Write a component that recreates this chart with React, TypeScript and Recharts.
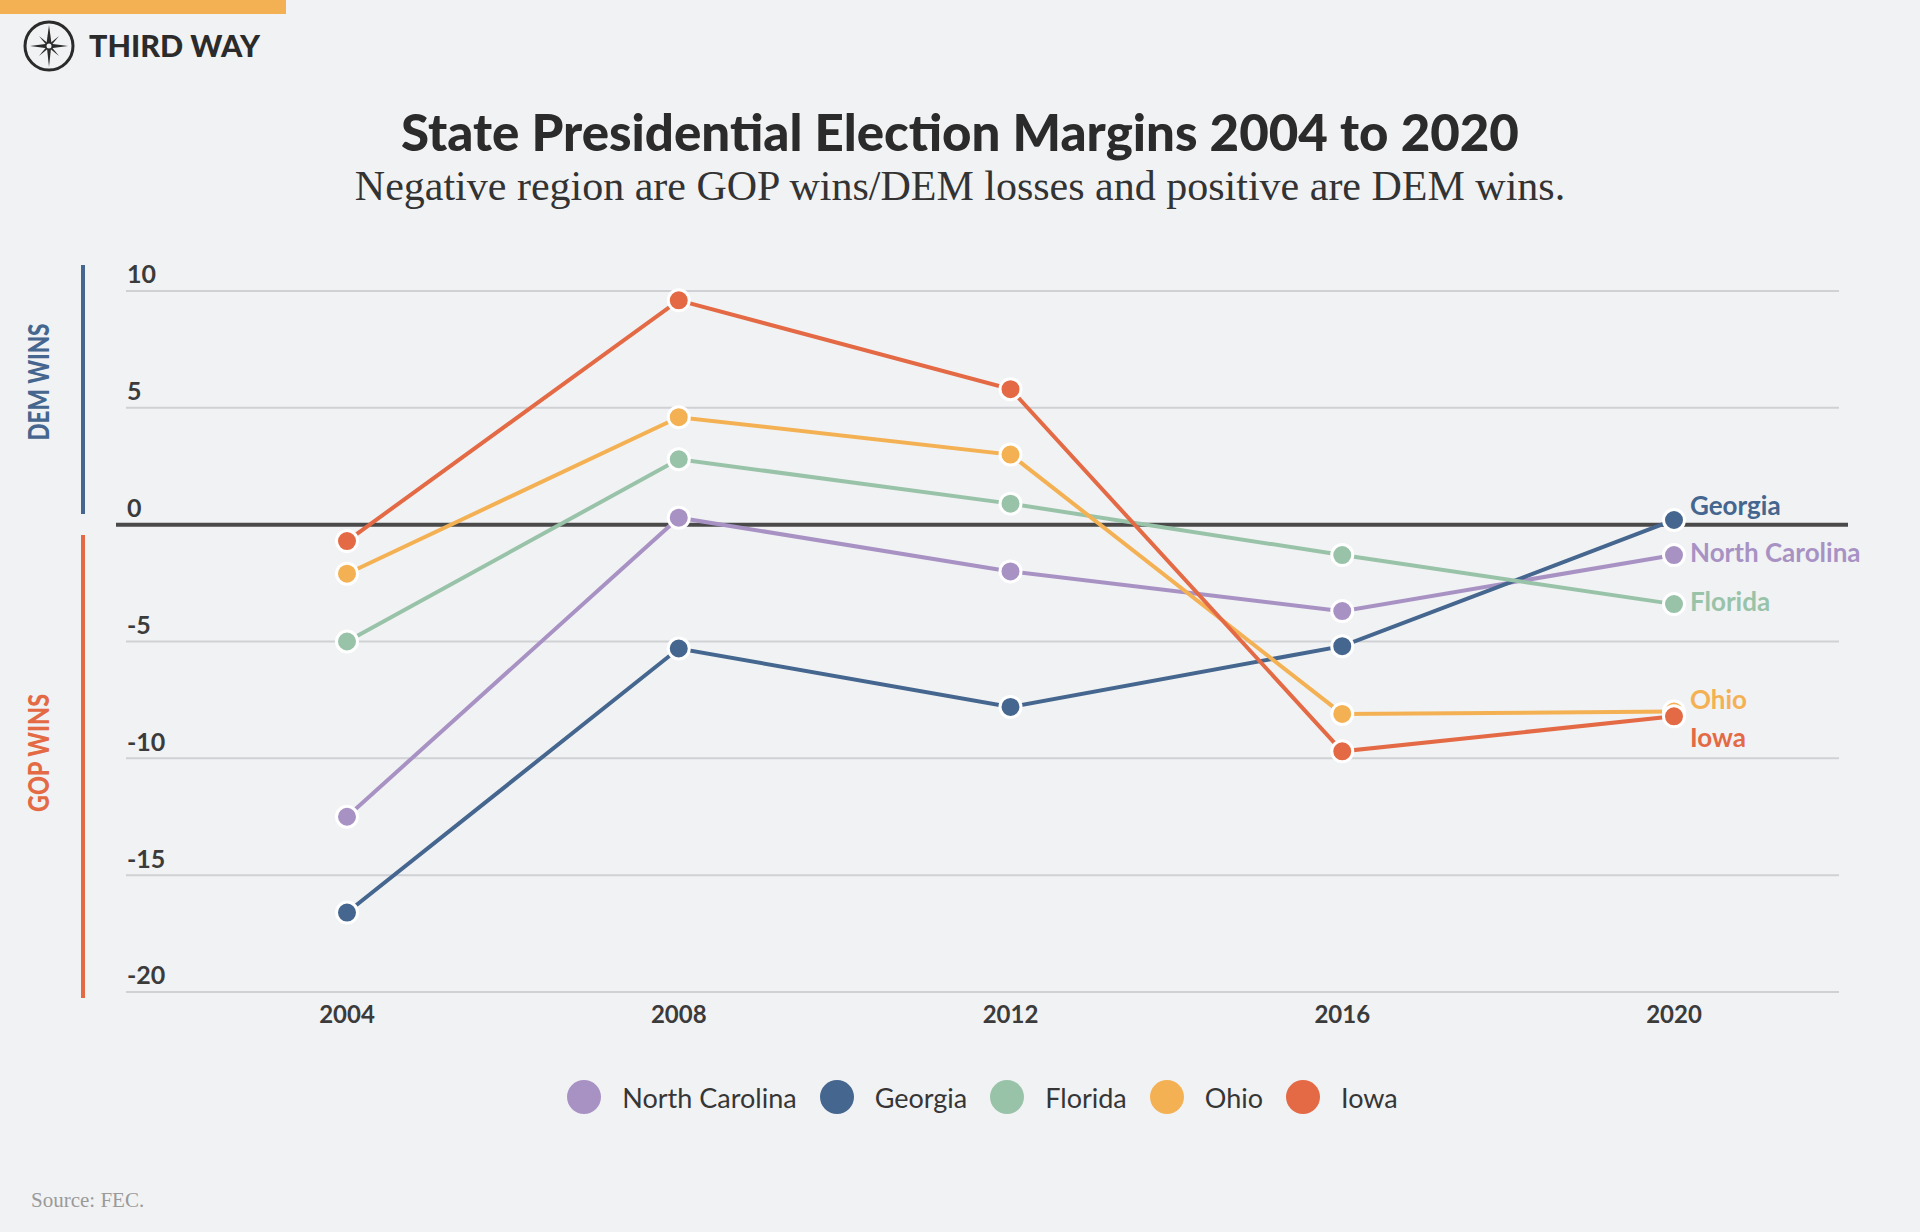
import React from "react";
import { LineChart, Line, XAxis, YAxis, CartesianGrid, Legend, ReferenceLine } from "recharts";

// margins in percentage points, negative = GOP win
const years = ["2004", "2008", "2012", "2016", "2020"];
const northCarolina = [-12.5, 0.3, -2.0, -3.7, -1.3];
const georgia = [-16.6, -5.3, -7.8, -5.2, 0.2];
const florida = [-5.0, 2.8, 0.9, -1.3, -3.4];
const ohio = [-2.1, 4.6, 3.0, -8.1, -8.0];
const iowa = [-0.7, 9.6, 5.8, -9.7, -8.2];
const yTicks = [-20, -15, -10, -5, 0, 5, 10];

const series = [
  { key: "nc", name: "North Carolina", values: northCarolina, color: "#a892c4", labelDy: 0 },
  { key: "ga", name: "Georgia", values: georgia, color: "#45668e", labelDy: -12 },
  { key: "fl", name: "Florida", values: florida, color: "#99c3a8", labelDy: 0 },
  { key: "oh", name: "Ohio", values: ohio, color: "#f4b154", labelDy: -9 },
  { key: "ia", name: "Iowa", values: iowa, color: "#e36a45", labelDy: 24 },
];

const data = years.map((year, i) => {
  const row: Record<string, any> = { year };
  series.forEach((s) => (row[s.key] = s.values[i]));
  return row;
});

const FONT = "Lato, 'Open Sans', sans-serif";
const TEXT = "#3b3b3b";

function YTick(props: any) {
  const { y, payload } = props;
  return (
    <text x={127} y={y - 14} fill={TEXT} fontSize={25} fontWeight={700} fontFamily={FONT} dominantBaseline="middle">
      {payload.value}
    </text>
  );
}

function XTick(props: any) {
  const { x, y, payload } = props;
  return (
    <text x={x} y={y + 17} fill={TEXT} fontSize={24} fontWeight={700} fontFamily={FONT} textAnchor="middle" dominantBaseline="middle">
      {payload.value}
    </text>
  );
}

function endLabel(s: (typeof series)[number]) {
  return (props: any) => {
    const { x, y, index } = props;
    if (index !== years.length - 1) return <g key={`${s.key}-${index}`} />;
    return (
      <text
        key={`${s.key}-${index}`}
        x={x + 16}
        y={y + s.labelDy}
        fill={s.color}
        fontSize={26}
        fontWeight={700}
        fontFamily={FONT}
        dominantBaseline="middle"
      >
        {s.name}
      </text>
    );
  };
}

function LegendContent() {
  return (
    <div style={{ display: "flex", justifyContent: "center", alignItems: "center", fontFamily: FONT, gap: 23 }}>
      {series.map((s) => (
        <div key={s.key} style={{ display: "flex", alignItems: "center" }}>
          <span style={{ width: 34, height: 34, borderRadius: "50%", background: s.color, marginRight: 21 }} />
          <span style={{ fontSize: 27, color: "#363636", fontWeight: 400 }}>{s.name}</span>
        </div>
      ))}
    </div>
  );
}

function Logo() {
  return (
    <svg width={300} height={90} style={{ position: "absolute", left: 0, top: 0 }}>
      <rect x={0} y={0} width={286} height={14} fill="#f4b154" />
      <circle cx={49} cy={46} r={24} fill="none" stroke="#2b2b2b" strokeWidth={3} />
      <polygon points="49,25 51.5,43.5 49,67 46.5,43.5" fill="#2b2b2b" />
      <polygon points="30,46 49,43.5 68,46 49,48.5" fill="#2b2b2b" />
      <polygon points="39,36 50,45 59,56 48,47" fill="#2b2b2b" />
      <polygon points="59,36 50,47 39,56 48,45" fill="#2b2b2b" />
      <circle cx={49} cy={46} r={2.5} fill="#f1f2f4" />
      <text x={89} y={57} fontSize={30} fontWeight={900} fontFamily={FONT} fill="#2b2b2b" textLength={171} lengthAdjust="spacingAndGlyphs">
        THIRD WAY
      </text>
    </svg>
  );
}

function SideLabels() {
  return (
    <svg width={110} height={1232} style={{ position: "absolute", left: 0, top: 0 }}>
      <rect x={81} y={265} width={4} height={249} fill="#45668e" />
      <rect x={81} y={535} width={4} height={463} fill="#e36a45" />
      <text
        transform="translate(42 382) rotate(-90)"
        fontSize={28}
        fontWeight={900}
        fontFamily={FONT}
        fill="#45668e"
        textAnchor="middle"
        dominantBaseline="middle"
        textLength={117}
        lengthAdjust="spacingAndGlyphs"
      >
        DEM WINS
      </text>
      <text
        transform="translate(42 753) rotate(-90)"
        fontSize={28}
        fontWeight={900}
        fontFamily={FONT}
        fill="#e36a45"
        textAnchor="middle"
        dominantBaseline="middle"
        textLength={118}
        lengthAdjust="spacingAndGlyphs"
      >
        GOP WINS
      </text>
    </svg>
  );
}

export default function App() {
  return (
    <div style={{ position: "absolute", left: 0, top: 0, width: 1920, height: 1232, background: "#f1f2f4", overflow: "hidden" }}>
      <Logo />
      <div
        style={{
          position: "absolute",
          top: 102,
          left: 0,
          width: 1920,
          textAlign: "center",
          fontFamily: FONT,
          fontWeight: 900,
          fontSize: 51,
          color: "#2b2b2b",
          lineHeight: "60px",
        }}
      >
        State Presidential Election Margins 2004 to 2020
      </div>
      <div
        style={{
          position: "absolute",
          top: 161,
          left: 0,
          width: 1920,
          textAlign: "center",
          fontFamily: "'Liberation Serif', serif",
          fontSize: 42,
          color: "#333",
          lineHeight: "50px",
        }}
      >
        Negative region are GOP wins/DEM losses and positive are DEM wins.
      </div>
      <SideLabels />
      <LineChart
        width={1920}
        height={1232}
        data={data}
        margin={{ top: 291, right: 81, bottom: 200, left: 125 }}
        style={{ position: "absolute", left: 0, top: 0 }}
      >
        <CartesianGrid vertical={false} stroke="#cfd1d4" strokeWidth={2} />
        <XAxis
          dataKey="year"
          axisLine={false}
          tickLine={false}
          height={40}
          padding={{ left: 221, right: 165 }}
          tick={<XTick />}
        />
        <YAxis
          width={1}
          domain={[-20, 10]}
          ticks={yTicks}
          interval={0}
          axisLine={false}
          tickLine={false}
          tick={<YTick />}
        />
        <ReferenceLine
          y={0}
          shape={(p: any) => <line x1={p.x1 - 10} y1={p.y1} x2={p.x2 + 9} y2={p.y2} stroke="#4a4a4a" strokeWidth={4} />}
        />
        <Legend
          layout="horizontal"
          verticalAlign="middle"
          align="center"
          wrapperStyle={{ top: 1080, left: 126, width: 1713 }}
          content={<LegendContent />}
        />
        {series.map((s) => (
          <Line
            key={s.key}
            dataKey={s.key}
            name={s.name}
            stroke={s.color}
            strokeWidth={4}
            dot={{ r: 10.5, fill: s.color, stroke: "#fff", strokeWidth: 3 }}
            activeDot={false}
            label={endLabel(s)}
            isAnimationActive={false}
          />
        ))}
      </LineChart>
      <div
        style={{
          position: "absolute",
          left: 31,
          top: 1188,
          fontFamily: "'Liberation Serif', serif",
          fontSize: 21,
          color: "#9a9a9a",
        }}
      >
        Source: FEC.
      </div>
    </div>
  );
}
